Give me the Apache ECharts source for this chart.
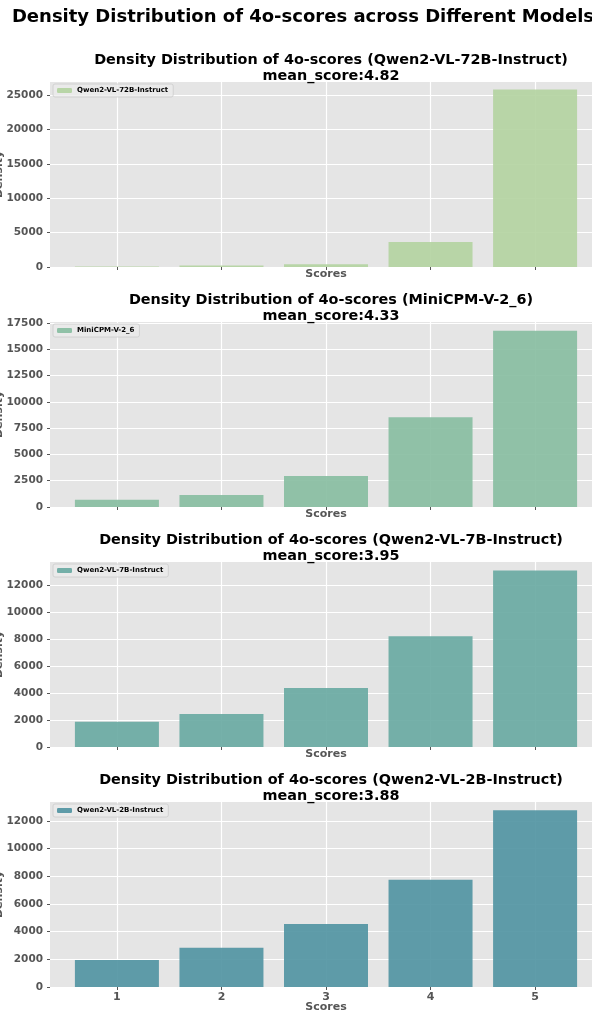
<!DOCTYPE html>
<html lang="en">
<head>
    <meta charset="UTF-8">
    <title>Density Distribution of 4o-scores</title>
    <script src="https://cdn.jsdelivr.net/npm/echarts@6.0.0/dist/echarts.min.js"></script>
    <style>
        html, body { margin: 0; padding: 0; background: #fff; }
        #main { width: 592px; height: 1012px; }
    </style>
</head>
<body>
    <div id="main"></div>
    <script type="text/javascript">
        // scores on the x axis
        const scores = [1, 2, 3, 4, 5];
        const models = ['Qwen2-VL-72B-Instruct', 'MiniCPM-V-2_6', 'Qwen2-VL-7B-Instruct', 'Qwen2-VL-2B-Instruct'];
        const meanScores = ['4.82', '4.33', '3.95', '3.88'];

        // counts per score
        const qwen72b = [80, 220, 400, 3640, 25850];
        const minicpm = [680, 1140, 2950, 8550, 16760];
        const qwen7b = [1880, 2450, 4380, 8240, 13120];
        const qwen2b = [1960, 2830, 4560, 7760, 12780];

        // y tick labels of each panel
        const ticks72b = [0, 5000, 10000, 15000, 20000, 25000];
        const ticksCpm = [0, 2500, 5000, 7500, 10000, 12500, 15000, 17500];
        const ticks7b = [0, 2000, 4000, 6000, 8000, 10000, 12000];
        const ticks2b = [0, 2000, 4000, 6000, 8000, 10000, 12000];

        const panels = [
            { name: models[0], mean: meanScores[0], values: qwen72b, ticks: ticks72b, ymax: 26950, color: '#b2d3a0' },
            { name: models[1], mean: meanScores[1], values: minicpm, ticks: ticksCpm, ymax: 17600, color: '#86bda0' },
            { name: models[2], mean: meanScores[2], values: qwen7b, ticks: ticks7b, ymax: 13760, color: '#67a9a1' },
            { name: models[3], mean: meanScores[3], values: qwen2b, ticks: ticks2b, ymax: 13380, color: '#4f92a1' }
        ];

        const gridTops = [82, 322, 562, 802];
        const gridH = 185;
        const gray = '#555';

        var chart = echarts.init(document.getElementById('main'));

        const titles = [{
            text: 'Density Distribution of 4o-scores across Different Models',
            left: 298, top: 3, textAlign: 'center',
            textStyle: { fontFamily: 'DejaVu Sans', fontSize: 18, fontWeight: 'bold', color: '#000' }
        }];
        const grids = [], xAxes = [], yAxes = [], series = [], legends = [];

        panels.forEach((p, i) => {
            const top = gridTops[i];
            const last = i === panels.length - 1;
            titles.push({
                text: 'Density Distribution of 4o-scores (' + p.name + ')\nmean_score:' + p.mean,
                left: 326, top: top - 35, textAlign: 'center',
                textStyle: { fontFamily: 'DejaVu Sans', fontSize: 14.4, fontWeight: 'bold', color: '#000', lineHeight: 16.5 }
            });
            grids.push({
                left: 50, right: -10, top: top, height: gridH,
                outerBoundsMode: 'none', containLabel: false,
                show: true, backgroundColor: '#e5e5e5', borderWidth: 0
            });
            xAxes.push({
                type: 'value', gridIndex: i, min: 0.36, max: 5.64,
                name: 'Scores', nameLocation: 'middle', nameGap: last ? 15 : 2, nameMoveOverlap: false,
                nameTextStyle: { fontFamily: 'DejaVu Sans', fontSize: 11, fontWeight: 'bold', color: gray },
                axisLine: { show: false },
                axisTick: { show: true, length: 3, customValues: scores, lineStyle: { color: gray } },
                axisLabel: { show: last, customValues: scores, margin: 5, fontFamily: 'DejaVu Sans', fontSize: 11, fontWeight: 'bold', color: gray },
                splitLine: { show: true, lineStyle: { color: '#fff', width: 1.2 } }
            });
            yAxes.push({
                type: 'value', gridIndex: i, min: 0, max: p.ymax,
                name: 'Density', nameLocation: 'middle', nameGap: 45, nameMoveOverlap: false,
                nameTextStyle: { fontFamily: 'DejaVu Sans', fontSize: 11, fontWeight: 'bold', color: gray },
                axisLine: { show: false },
                axisTick: { show: true, length: 3, customValues: p.ticks, lineStyle: { color: gray } },
                axisLabel: {
                    customValues: p.ticks, margin: 7, formatter: v => String(v),
                    fontFamily: 'DejaVu Sans', fontSize: 10.5, fontWeight: 'bold', color: gray
                },
                splitLine: { show: true, lineStyle: { color: '#fff', width: 1.2 } }
            });
            series.push({
                name: p.name, type: 'bar', xAxisIndex: i, yAxisIndex: i,
                data: scores.map((s, k) => [s, p.values[k]]),
                barWidth: 84,
                itemStyle: { color: p.color, opacity: 0.9 },
                emphasis: { disabled: true }
            });
            legends.push({
                data: [p.name], left: 53, top: top + 2, orient: 'vertical',
                itemWidth: 15, itemHeight: 5, itemGap: 4,
                padding: [3, 5, 3, 4],
                backgroundColor: 'rgba(235,235,235,0.8)', borderColor: '#cccccc', borderWidth: 0.8, borderRadius: 2,
                textStyle: { fontFamily: 'DejaVu Sans', fontSize: 7, fontWeight: 'bold', color: '#000' },
                itemStyle: { opacity: 0.9 }
            });
        });

        chart.setOption({
            animation: false,
            title: titles,
            grid: grids,
            xAxis: xAxes,
            yAxis: yAxes,
            legend: legends,
            series: series
        });
    </script>
</body>
</html>
